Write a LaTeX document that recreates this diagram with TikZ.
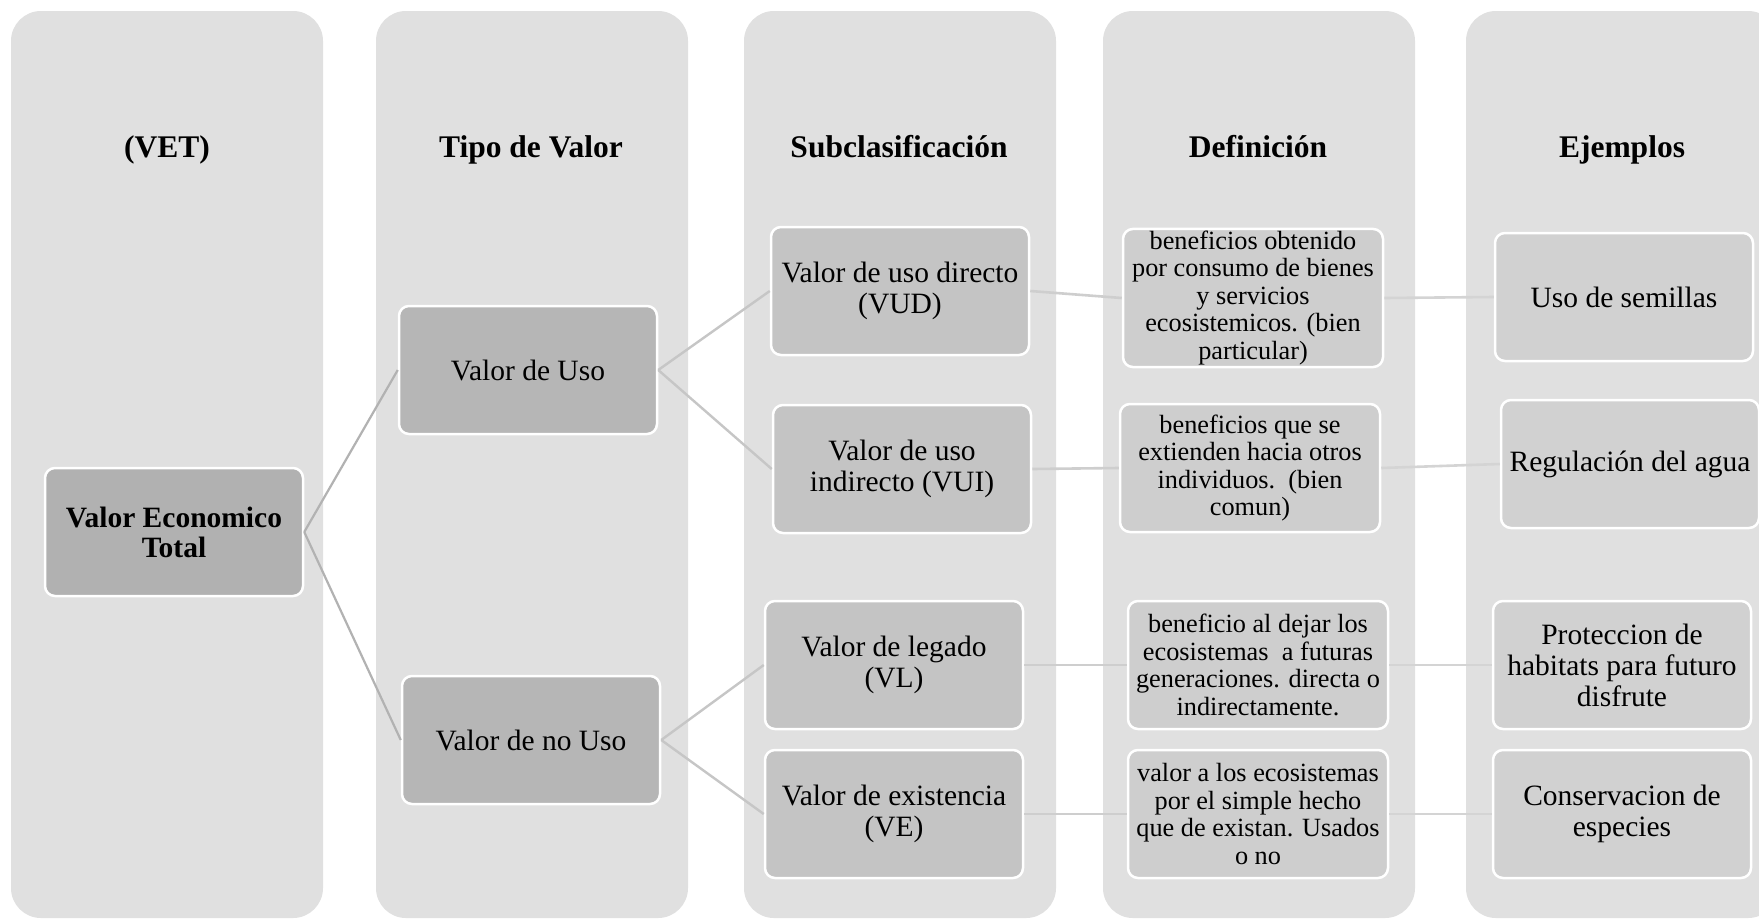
\documentclass[tikz,border=0pt]{standalone}
\usepackage{fontspec}
\setmainfont{Liberation Serif}
\usepackage{xcolor}
\usepackage{tikz}
\usetikzlibrary{positioning}
\definecolor{vgband}{RGB}{224,224,224}
\definecolor{vgroot}{RGB}{177,177,177}
\definecolor{vgtype}{RGB}{182,182,182}
\definecolor{vgsub}{RGB}{196,196,196}
\definecolor{vgdef}{RGB}{206,206,206}
\definecolor{vgex}{RGB}{209,209,209}
\definecolor{vgrootline}{RGB}{178,178,178}
\definecolor{vgtypeline}{RGB}{198,198,198}
\definecolor{vgsubline}{RGB}{206,206,206}
\definecolor{vgdefline}{RGB}{212,212,212}
\tikzset{
  band/.style     = {fill=vgband, rounded corners=30pt},
  colhead/.style  = {font=\fontsize{31.5}{36}\selectfont\bfseries, align=center, anchor=base},
  box/.style      = {rectangle, rounded corners=10pt, draw=white, line width=2.5pt,
                     align=center, minimum width=258pt, minimum height=128pt,
                     font=\fontsize{29.5}{31}\selectfont, inner sep=2pt},
  rootbox/.style  = {box, fill=vgroot, font=\fontsize{29.5}{30}\selectfont\bfseries},
  typebox/.style  = {box, fill=vgtype},
  subbox/.style   = {box, fill=vgsub},
  defbox/.style   = {box, fill=vgdef, minimum width=260pt, font=\fontsize{26.3}{27.5}\selectfont},
  exbox/.style    = {box, fill=vgex},
  rootlink/.style = {line width=2.2pt, draw=vgrootline},
  typelink/.style = {line width=2.4pt, draw=vgtypeline},
  sublink/.style  = {line width=2.6pt, draw=vgsubline},
  deflink/.style  = {line width=2.6pt, draw=vgdefline},
}

\begin{document}
\begin{tikzpicture}[x=1pt, y=-1pt]
  \useasboundingbox (0,0) rectangle (1759,919);
  \fill[white] (0,0) rectangle (1759,919);
  % columns
  \begin{scope}
    \clip (0,0) rectangle (1759,919);
    \foreach \x in {11,376,744,1103,1466}
      \fill[band] (\x,11) rectangle ++(312,907);
  \end{scope}
  \node[colhead] (h1) at (167,157) {(VET)};
  \node[colhead] (h2) at (531,157) {Tipo de Valor};
  \node[colhead] (h3) at (899,157) {Subclasificación};
  \node[colhead] (h4) at (1258,157) {Definición};
  \node[colhead] (h5) at (1622,157) {Ejemplos};
  % boxes
  \node[rootbox] (vet) at (174,532) {Valor Economico\\Total};
  \node[typebox] (uso) at (528,370) {Valor de Uso};
  \node[typebox] (nouso) at (531,740) {Valor de no Uso};
  \node[subbox] (vud) at (900,291) {Valor de uso directo\\(VUD)};
  \node[subbox] (vui) at (902,469) {Valor de uso\\indirecto (VUI)};
  \node[subbox] (vl) at (894,665) {Valor de legado\\(VL)};
  \node[subbox] (ve) at (894,814) {Valor de existencia\\(VE)};
  \node[defbox] (d1) at (1253,298) {beneficios obtenido\\por consumo de bienes\\y servicios\\ecosistemicos. (bien\\particular)};
  \node[defbox] (d2) at (1250,468) {beneficios que se\\extienden hacia otros\\individuos.\ \ (bien\\comun)};
  \node[defbox] (d3) at (1258,665) {beneficio al dejar los\\ecosistemas\ \ a futuras\\generaciones. directa o\\indirectamente.};
  \node[defbox] (d4) at (1258,814) {valor a los ecosistemas\\por el simple hecho\\que de existan. Usados\\o no};
  \node[exbox] (e1) at (1624,297) {Uso de semillas};
  \node[exbox] (e2) at (1630,464) {Regulación del agua};
  \node[exbox] (e3) at (1622,665) {Proteccion de\\habitats para futuro\\disfrute};
  \node[exbox] (e4) at (1622,814) {Conservacion de\\especies};
  % links
  \draw[rootlink] (vet.east) -- (uso.west); \draw[rootlink] (vet.east) -- (nouso.west);
  \draw[typelink] (uso.east) -- (vud.west); \draw[typelink] (uso.east) -- (vui.west);
  \draw[typelink] (nouso.east) -- (vl.west); \draw[typelink] (nouso.east) -- (ve.west);
  \draw[sublink] (vud.east) -- (d1.west); \draw[sublink] (vui.east) -- (d2.west);
  \draw[sublink] (vl.east) -- (d3.west); \draw[sublink] (ve.east) -- (d4.west);
  \draw[deflink] (d1.east) -- (e1.west); \draw[deflink] (d2.east) -- (e2.west);
  \draw[deflink] (d3.east) -- (e3.west); \draw[deflink] (d4.east) -- (e4.west);
\end{tikzpicture}
\end{document}
